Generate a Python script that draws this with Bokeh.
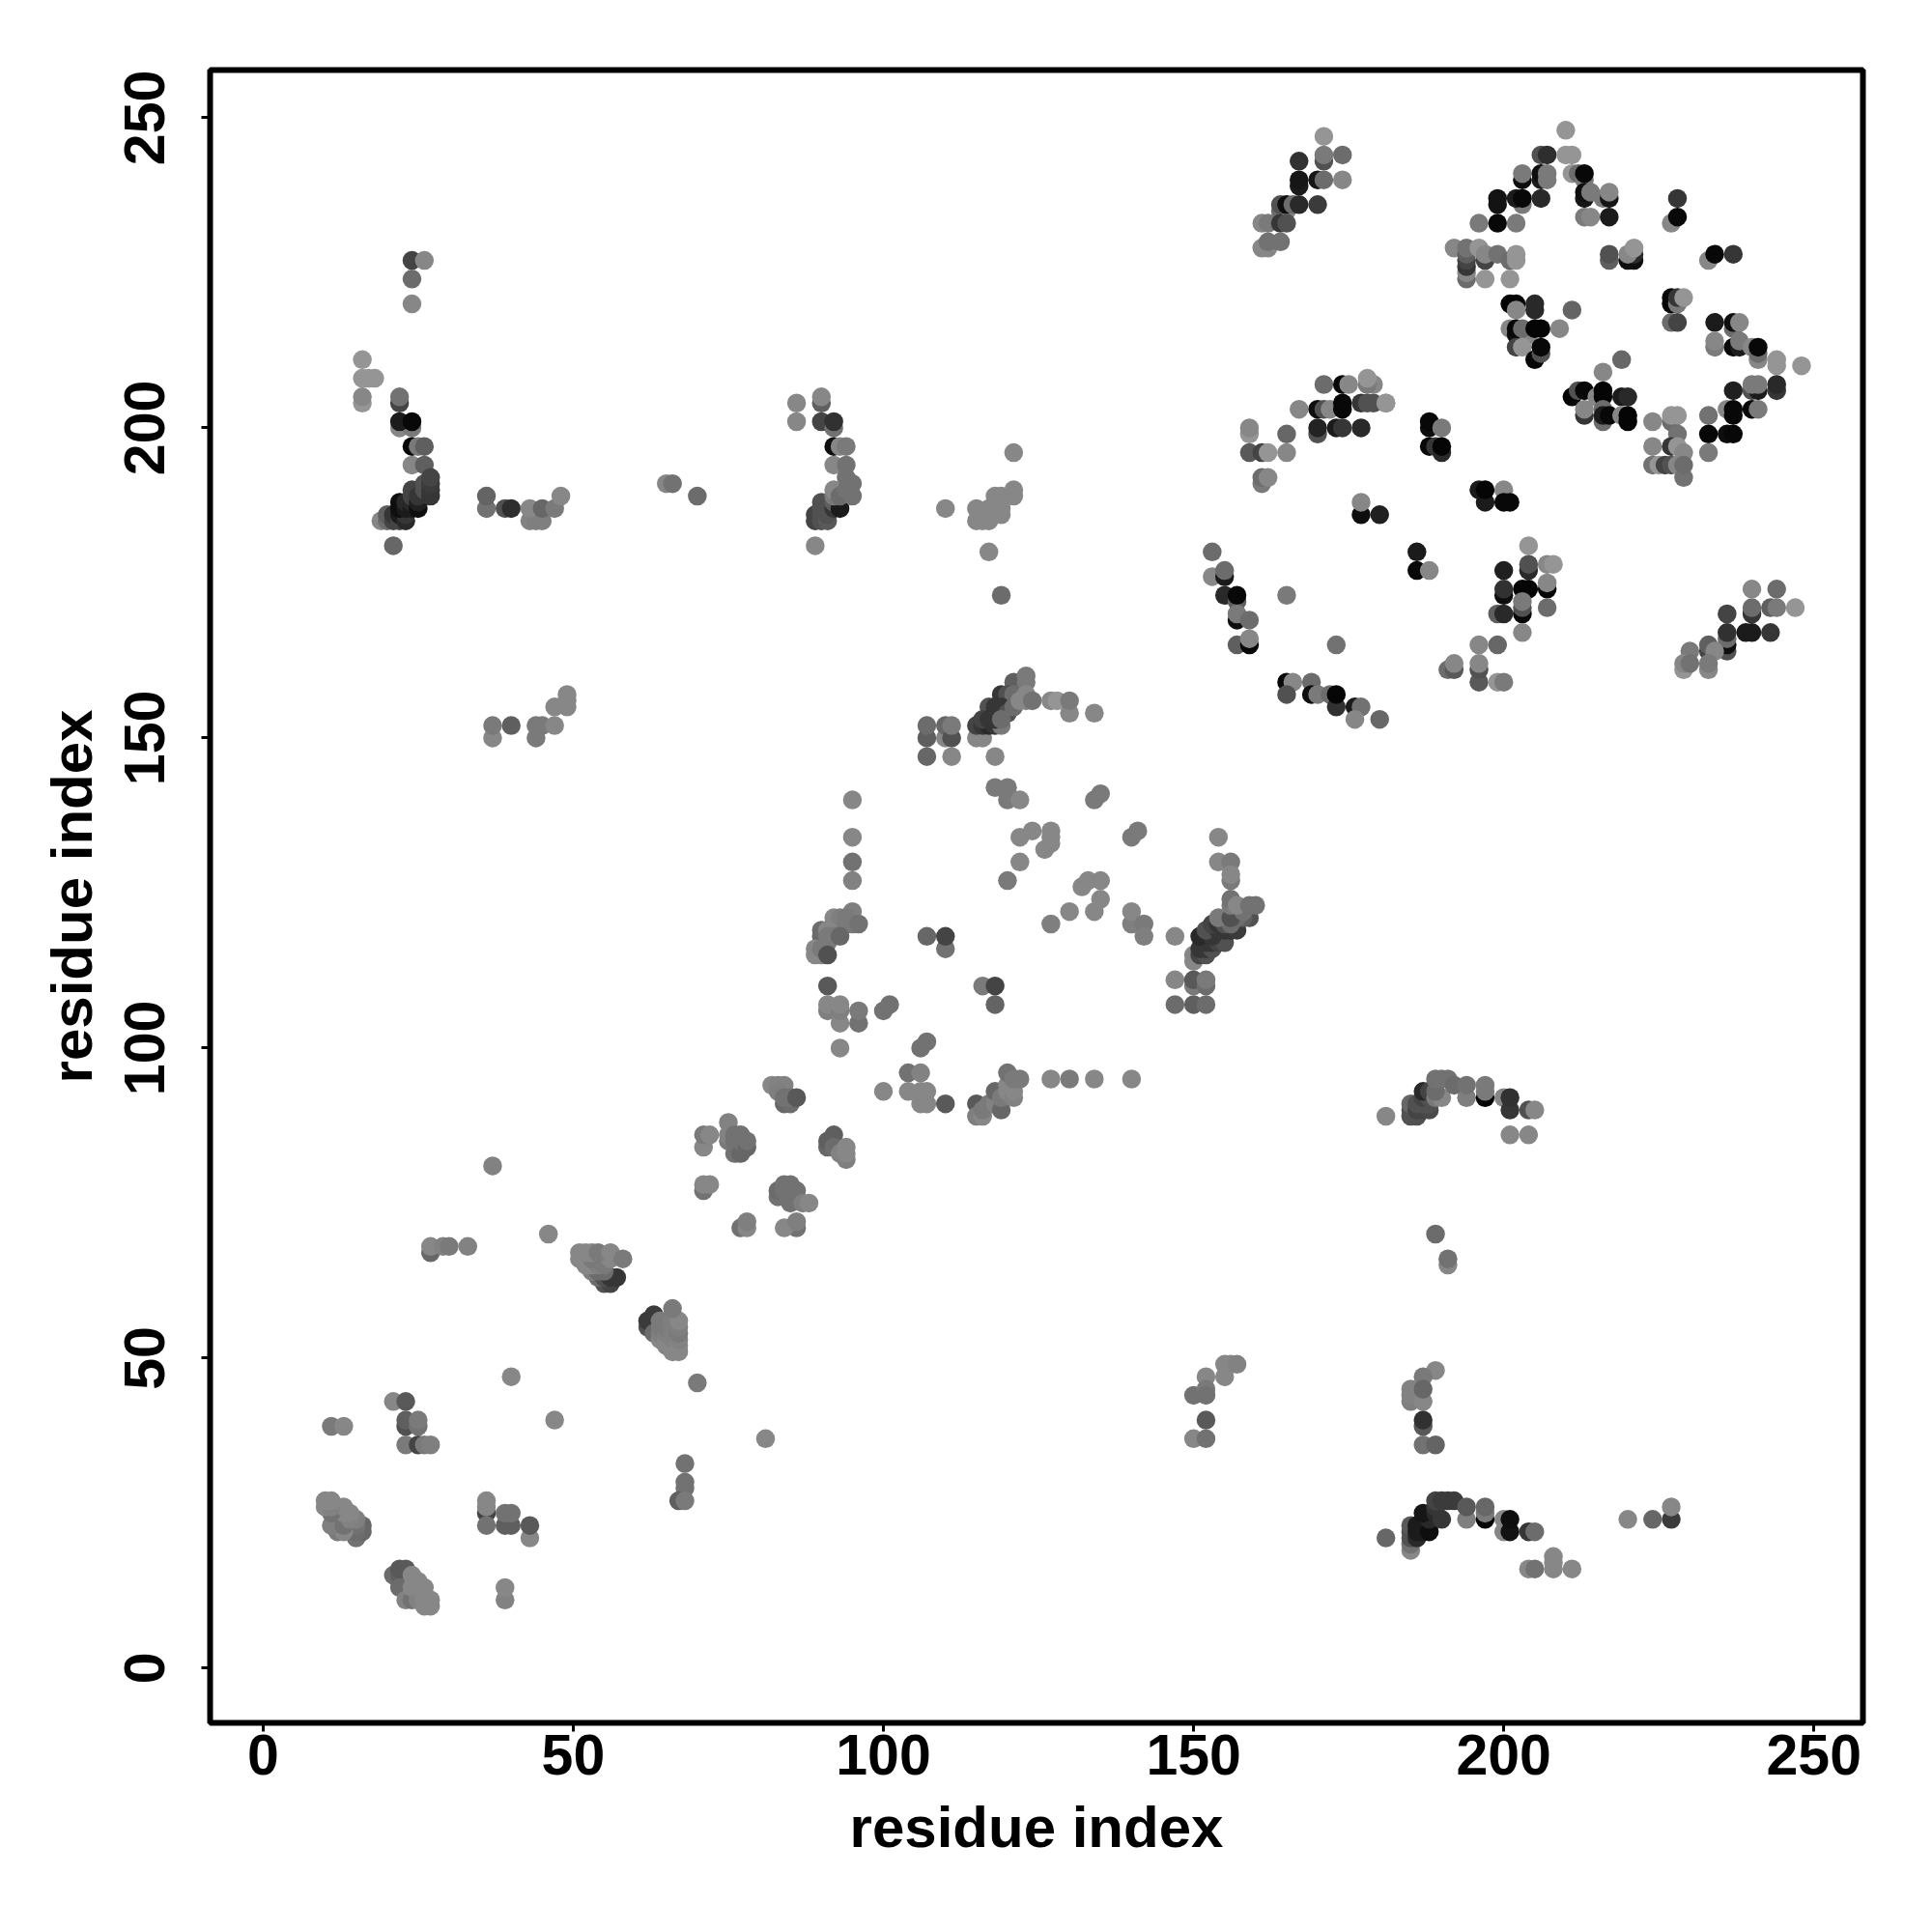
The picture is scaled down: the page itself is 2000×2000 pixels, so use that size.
from bokeh.embed import file_html
from bokeh.models import FixedTicker, Range1d
from bokeh.plotting import figure
from bokeh.resources import INLINE

# contacts as (residue x, residue y, grey level 0..1), cluster by cluster
top_diamond = [(210,248,.55),(206,244,.3),(207,244,.17),(210,244,.55),(211,244,.55),(203,240,.05),(203,241,.45),(206,240,.1),(206,241,.05),(207,240,.45),(207,241,.45),(211,241,.55),(212,241,.4),(213,240,.45),(213,241,.03),(213,237,.08),(213,238,.05),(214,238,.45),(216,237,.45),(217,237,.08),(217,238,.5),(199,236,.07),(199,237,.07),(203,236,.45),(202,237,.1),(203,237,.03),(206,237,.15),(213,234,.45),(214,234,.5),(217,234,.1),(196,233,.45),(199,233,.03),(202,233,.45),(228,237,.2),(227,233,.5),(228,234,.03)]
top_row = [(192,229,.5),(194,224,.4),(194,225,.5),(194,226,.2),(194,227,.25),(194,228,.35),(194,229,.42),(197,227,.25),(196,229,.55),(197,228,.5),(199,228,.42),(201,227,.4),(202,227,.55),(202,228,.55),(197,224,.55),(201,224,.55),(217,227,.35),(217,228,.3),(220,227,.05),(221,227,.05),(221,228,.15),(220,228,.5),(221,229,.55),(233,227,.5),(234,228,.03),(237,228,.2)]
mid_diamond = [(201,220,.02),(202,220,.02),(202,219,.5),(205,219,.15),(205,220,.15),(211,219,.37),(201,216,.5),(202,215,.05),(202,216,.03),(204,215,.5),(203,216,.4),(205,216,.02),(206,216,.02),(209,216,.5),(202,213,.25),(203,213,.55),(205,211,.03),(206,212,.3),(206,213,.03),(227,220,.03),(227,221,.03),(228,220,.45),(228,221,.2),(229,221,.55),(227,217,.4),(228,217,.25),(234,217,.1),(237,216,.4),(237,217,.05),(238,217,.5),(234,213,.45),(234,214,.5),(237,213,.03),(238,213,.1),(238,214,.45),(240,213,.5),(241,211,.5),(241,212,.4),(241,213,.03),(244,210,.55),(244,211,.55),(248,210,.55)]
low_diamond = [(219,211,.38),(216,209,.5),(211,205,.02),(212,206,.3),(213,206,.03),(215,205,.5),(216,205,.02),(216,206,.02),(219,205,.1),(220,205,.15),(213,202,.2),(213,203,.5),(216,201,.4),(216,203,.4),(216,202,.1),(217,202,.03),(219,202,.5),(220,201,.02),(220,202,.02),(233,202,.42),(237,206,.12),(240,206,.3),(241,206,.1),(240,207,.45),(241,207,.45),(244,206,.2),(244,207,.15),(236,203,.5),(237,202,.03),(237,203,.03),(240,203,.03),(241,203,.45),(233,199,.03),(236,199,.05),(237,199,.03),(233,196,.45),(224,201,.5),(227,201,.4),(227,202,.55),(228,202,.55),(228,199,.42),(224,197,.5),(227,197,.2),(228,197,.55),(229,196,.5),(224,194,.42),(225,194,.55),(226,194,.25),(227,194,.3),(228,194,.5),(229,192,.42),(229,194,.4),(188,200,.05),(188,201,.03),(190,200,.45),(188,197,.03),(189,197,.2),(190,196,.15),(190,197,.02),(179,204,.3),(179,207,.5),(181,204,.5)]
upper_strand = [(171,247,.55),(171,243,.3),(171,244,.45),(174,244,.4),(167,243,.18),(167,239,.1),(167,240,.08),(170,240,.08),(171,240,.4),(174,240,.5),(164,235,.4),(165,235,.5),(164,236,.3),(165,236,.05),(166,236,.4),(167,236,.15),(170,236,.22),(161,233,.5),(162,233,.45),(164,233,.2),(165,233,.3),(161,229,.5),(162,229,.5),(162,230,.42),(164,230,.42)]
mid_strand = [(178,207,.45),(178,208,.55),(171,207,.4),(174,207,.03),(175,207,.5),(167,203,.5),(170,203,.05),(171,203,.3),(172,203,.5),(174,203,.03),(174,204,.03),(177,204,.2),(178,204,.3),(181,204,.55),(170,199,.3),(170,200,.13),(173,200,.1),(174,200,.2),(177,200,.15),(159,199,.55),(159,200,.5),(165,199,.38),(159,196,.33),(161,196,.25),(162,196,.55),(165,196,.5),(161,191,.45),(161,192,.4),(162,192,.5),(177,186,.05),(177,188,.5),(180,186,.12),(196,190,.1),(197,188,.1),(197,190,.02),(200,190,.5),(200,188,.03),(201,188,.03)]
ring_left = [(153,180,.4),(153,176,.5),(155,176,.1),(155,177,.4),(155,173,.15),(157,172,.35),(157,173,.03),(157,169,.05),(157,170,.45),(159,169,.4),(157,165,.35),(159,165,.03),(159,166,.5),(165,173,.45),(173,165,.42),(165,159,.03),(166,159,.5),(165,157,.3),(169,159,.4),(169,157,.05),(170,157,.45),(172,157,.4),(173,155,.18),(173,157,.02),(176,155,.1),(177,155,.42),(176,153,.5),(180,153,.38),(186,180,.1),(186,177,.03),(188,177,.5)]
ring_right = [(204,181,.55),(204,177,.15),(204,178,.3),(207,178,.5),(208,178,.55),(200,177,.12),(200,173,.05),(200,174,.18),(203,174,.02),(204,174,.02),(207,174,.02),(207,175,.5),(203,170,.03),(203,171,.3),(203,172,.45),(207,171,.4),(199,170,.35),(200,170,.15),(203,167,.5),(196,165,.5),(199,165,.38),(191,161,.4),(192,161,.33),(192,162,.5),(196,159,.33),(196,161,.3),(196,162,.5),(199,159,.55),(200,159,.45)]
far_strand = [(240,170,.2),(240,171,.4),(240,174,.5),(244,174,.4),(243,171,.35),(244,171,.45),(247,171,.55),(236,170,.25),(236,164,.3),(236,165,.05),(236,166,.4),(236,167,.18),(239,167,.1),(240,167,.1),(243,167,.2),(233,164,.25),(233,165,.35),(234,164,.5),(230,164,.45),(229,161,.55),(229,162,.5),(230,162,.42),(233,161,.5),(233,162,.45)]
centre_top = [(121,159,.35),(123,159,.45),(123,160,.45),(119,157,.2),(120,157,.3),(121,157,.4),(123,157,.5),(117,155,.3),(118,155,.2),(119,155,.2),(120,154,.3),(121,155,.4),(122,156,.5),(123,156,.5),(124,156,.42),(127,156,.5),(128,156,.55),(130,154,.5),(130,156,.45),(134,154,.5),(115,150,.5),(116,150,.5),(115,152,.25),(116,152,.2),(117,152,.15),(118,152,.2),(119,152,.45),(116,153,.25),(117,153,.2),(118,153,.2),(119,153,.4),(107,147,.38),(107,150,.35),(107,152,.4),(110,150,.5),(110,152,.38),(111,150,.3),(111,152,.45),(111,147,.5),(118,147,.5)]
centre_mid = [(120,140,.45),(120,141,.45),(118,142,.45),(120,142,.45),(122,140,.5),(134,140,.45),(135,141,.45),(95,140,.5),(95,134,.5),(95,130,.42),(95,127,.48),(122,134,.5),(124,135,.5),(126,132,.5),(127,133,.5),(127,134,.5),(127,135,.5),(122,130,.5),(120,127,.45),(140,134,.45),(141,135,.45),(154,134,.5),(154,130,.5),(156,130,.45),(156,127,.45),(156,128,.5),(132,126,.5),(133,127,.5),(135,127,.5),(135,124,.5),(134,122,.5),(130,122,.5),(127,120,.47),(140,120,.47),(140,122,.5),(142,120,.45),(142,118,.47),(147,118,.5)]
centre_diag = [(150,114,.5),(150,115,.5),(151,115,.25),(152,115,.3),(151,116,.2),(152,116,.2),(153,116,.3),(152,117,.2),(153,117,.2),(154,117,.25),(155,117,.3),(151,118,.15),(153,118,.2),(152,119,.3),(154,119,.2),(155,119,.2),(156,119,.2),(157,119,.22),(153,120,.25),(154,120,.2),(155,120,.3),(159,121,.3),(158,121,.35),(157,121,.4),(156,120,.4),(154,121,.45),(156,121,.3),(158,122,.42),(156,123,.45),(156,124,.42),(157,123,.5),(159,123,.42),(160,123,.42)]
left_of_centre = [(95,122,.47),(92,120,.45),(93,120,.48),(92,121,.5),(93,121,.47),(94,120,.45),(94,121,.45),(95,120,.45),(96,120,.42),(90,118,.38),(90,119,.4),(91,119,.5),(91,117,.45),(91,118,.45),(92,118,.45),(93,118,.38),(89,115,.5),(89,116,.5),(90,115,.5),(90,116,.45),(91,115,.3),(91,110,.33),(91,106,.47),(91,107,.5),(93,104,.5),(93,106,.47),(93,107,.5),(96,104,.42),(96,106,.45),(100,106,.42),(101,107,.42),(93,100,.5),(107,118,.38),(110,116,.42),(110,118,.25),(116,110,.45),(118,107,.37),(118,110,.25),(147,107,.4),(147,111,.5),(150,107,.35),(152,107,.4),(150,110,.45),(150,111,.33),(152,110,.4),(152,111,.45)]
row_95 = [(106,100,.42),(107,101,.42),(104,96,.42),(106,96,.48),(100,93,.5),(104,93,.5),(106,91,.5),(107,91,.5),(106,93,.5),(107,93,.5),(110,91,.33),(115,91,.33),(115,89,.47),(116,89,.5),(116,90,.45),(117,91,.45),(118,91,.48),(119,90,.38),(118,93,.38),(119,92,.45),(120,93,.5),(120,94,.5),(121,92,.48),(121,93,.5),(120,96,.42),(121,95,.45),(122,95,.45),(127,95,.5),(130,95,.45),(134,95,.5),(140,95,.5)]
lower_diag = [(71,84,.5),(71,86,.45),(72,86,.5),(75,88,.48),(75,85,.45),(75,86,.48),(76,83,.42),(76,85,.42),(76,86,.42),(77,83,.38),(77,85,.42),(77,86,.42),(78,84,.38),(78,85,.42),(82,94,.5),(83,94,.48),(84,94,.48),(83,93,.47),(84,91,.38),(85,91,.4),(84,92,.42),(85,92,.42),(86,92,.33),(92,86,.35),(91,84,.38),(91,85,.35),(92,84,.4),(93,83,.48),(94,82,.47),(94,83,.5),(94,84,.5),(71,77,.42),(71,78,.5),(72,78,.5),(83,76,.42),(83,77,.4),(84,77,.42),(85,75,.42),(85,77,.42),(84,78,.42),(85,78,.42),(86,77,.42),(87,75,.47),(88,75,.5),(77,71,.42),(78,71,.5),(78,72,.47),(86,71,.42),(84,71,.5),(86,72,.47),(70,46,.45),(81,37,.5),(37,81,.48),(46,70,.5)]
helix_one = [(27,67,.38),(27,68,.5),(29,68,.48),(30,68,.45),(33,68,.48),(55,62,.3),(56,62,.25),(54,63,.4),(55,63,.3),(56,63,.2),(57,63,.2),(53,64,.47),(54,64,.4),(55,64,.4),(52,65,.5),(53,65,.5),(54,65,.47),(55,65,.45),(51,66,.5),(52,66,.5),(53,66,.45),(54,66,.45),(56,66,.5),(51,67,.5),(52,67,.5),(53,67,.5),(54,67,.45),(56,67,.5),(58,66,.45)]
helix_two = [(62,55,.3),(63,55,.3),(62,56,.22),(63,56,.22),(63,57,.22),(63,54,.4),(64,53,.5),(64,54,.47),(64,55,.45),(64,56,.45),(65,52,.5),(65,53,.5),(65,54,.47),(65,55,.45),(66,51,.5),(66,52,.5),(66,53,.48),(66,54,.47),(66,55,.47),(66,56,.47),(67,51,.5),(67,52,.5),(67,53,.48),(67,54,.45),(67,55,.47),(67,56,.5),(66,58,.45)]
bottom_left = [(40,47,.5),(47,40,.5),(21,43,.5),(23,43,.33),(23,39,.3),(23,40,.35),(25,39,.42),(25,40,.45),(11,39,.45),(13,39,.5),(23,36,.45),(25,36,.25),(26,36,.45),(27,36,.47),(68,33,.42),(68,29,.42),(68,30,.42),(67,27,.35),(68,27,.45),(36,25,.25),(36,26,.5),(36,27,.5),(36,23,.42),(39,23,.35),(40,23,.35),(39,25,.42),(40,25,.42),(43,21,.5),(43,23,.33),(39,11,.48),(39,13,.5)]
helix_three = [(15,21,.42),(16,22,.38),(16,23,.38),(15,22,.4),(15,23,.42),(12,22,.45),(13,22,.5),(11,23,.47),(13,23,.42),(15,24,.47),(14,24,.48),(14,25,.5),(13,25,.5),(11,25,.42),(13,26,.5),(10,26,.5),(11,26,.48),(10,27,.5),(11,27,.5)]
helix_four = [(21,15,.4),(22,15,.35),(23,15,.35),(22,16,.33),(23,16,.33),(22,13,.4),(23,13,.4),(23,11,.48),(24,11,.42),(24,13,.5),(24,15,.5),(25,11,.48),(25,13,.5),(25,14,.5),(26,10,.5),(26,11,.5),(26,13,.5),(27,10,.5),(27,11,.5)]
upper_left = [(24,227,.25),(26,227,.5),(24,224,.4),(24,220,.5),(16,211,.55),(16,208,.55),(17,208,.55),(18,208,.55),(16,204,.55),(16,205,.5),(22,204,.25),(22,205,.42),(22,200,.5),(24,200,.45),(22,201,.1),(24,201,.03),(24,197,.02),(25,197,.45),(26,197,.35),(24,194,.5),(26,194,.35),(21,181,.38),(19,185,.5),(20,185,.4),(20,186,.35),(21,185,.25),(21,186,.2),(22,185,.25),(22,186,.1),(23,185,.15),(23,186,.2),(22,187,.05),(22,188,.05),(23,187,.1),(23,188,.15),(24,187,.1),(24,188,.15),(24,189,.25),(24,190,.25),(25,187,.05),(25,188,.12),(25,189,.2),(26,190,.3),(26,191,.3),(27,189,.2),(27,190,.2),(27,191,.22),(27,192,.25)]
upper_row = [(36,187,.42),(36,189,.37),(39,187,.3),(40,187,.17),(43,185,.48),(44,185,.47),(45,185,.47),(43,187,.5),(45,187,.38),(47,187,.45),(48,189,.5),(65,191,.5),(66,191,.42),(70,189,.4),(110,187,.5)]
upper_mid = [(86,201,.5),(86,204,.5),(90,204,.35),(90,205,.5),(90,201,.25),(92,200,.42),(92,201,.18),(92,197,.05),(93,197,.5),(94,197,.45),(92,194,.5),(94,194,.42),(94,192,.42),(89,181,.5),(89,185,.25),(89,186,.25),(90,185,.3),(90,186,.3),(91,185,.33),(91,186,.3),(90,187,.3),(90,188,.3),(91,187,.3),(91,188,.3),(92,187,.2),(92,188,.35),(93,187,.1),(92,189,.45),(92,190,.5),(93,189,.4),(94,190,.42),(95,189,.42),(95,191,.42)]
row_152 = [(37,150,.5),(37,152,.45),(40,152,.35),(44,150,.45),(44,152,.45),(45,152,.45),(47,152,.5),(47,155,.5),(49,155,.5),(49,156,.5),(49,157,.5)]
cluster_118 = [(121,196,.5),(117,180,.5),(119,173,.4),(115,185,.5),(116,185,.5),(117,185,.5),(116,186,.5),(119,186,.5),(115,187,.5),(117,187,.5),(118,187,.5),(119,187,.5),(118,189,.5),(119,189,.5),(121,189,.5),(121,190,.5)]
upper_arch = [(181,89,.5),(185,89,.3),(186,89,.3),(185,90,.3),(185,91,.38),(186,90,.25),(187,90,.25),(188,90,.27),(186,91,.3),(187,91,.3),(188,91,.3),(187,92,.25),(188,92,.3),(187,93,.15),(188,93,.25),(189,92,.45),(190,92,.5),(189,93,.4),(189,95,.42),(190,95,.42),(191,95,.42),(192,94,.4),(194,92,.47),(194,94,.42),(197,92,.02),(197,93,.45),(197,94,.45),(200,92,.5),(201,90,.2),(201,92,.18),(204,90,.3),(205,90,.5),(201,86,.5),(204,86,.5)]
right_bottom = [(189,70,.4),(191,65,.5),(191,66,.42),(189,48,.5),(187,47,.45),(185,43,.47),(185,44,.48),(185,45,.48),(187,43,.5),(187,45,.38),(187,39,.33),(187,40,.18),(187,36,.42),(189,36,.37),(152,47,.5),(150,44,.42),(152,45,.45),(152,44,.42),(155,47,.5),(155,49,.5),(156,49,.5),(157,49,.48),(152,40,.33),(150,37,.5),(152,37,.42)]
lower_arch = [(181,21,.38),(185,19,.5),(185,20,.42),(185,21,.3),(185,22,.3),(185,23,.33),(186,21,.15),(186,22,.1),(186,23,.1),(187,22,.1),(187,23,.1),(188,22,.05),(188,24,.15),(187,25,.08),(189,25,.15),(190,24,.2),(189,26,.2),(189,27,.25),(190,27,.22),(191,27,.22),(192,27,.22),(194,24,.47),(194,26,.33),(197,24,.02),(197,25,.45),(197,26,.38),(200,22,.5),(200,24,.5),(201,22,.07),(201,24,.05),(204,22,.2),(205,22,.4),(204,16,.5),(205,16,.42),(208,16,.5),(208,17,.5),(208,18,.5),(211,16,.5),(220,24,.5),(224,24,.38),(227,24,.22),(227,26,.5)]

clusters = [top_diamond, top_row, mid_diamond, low_diamond, upper_strand, mid_strand, ring_left, ring_right,
            far_strand, centre_top, centre_mid, centre_diag, left_of_centre, row_95, lower_diag, helix_one,
            helix_two, bottom_left, helix_three, helix_four, upper_left, upper_row, upper_mid, row_152,
            cluster_118, upper_arch, right_bottom, lower_arch]

x_ticks = [0, 50, 100, 150, 200, 250]
y_ticks = [0, 50, 100, 150, 200, 250]
axis_title = "residue index"


def grey(level):
    c = min(255, round(level * 255 * 1.06))
    return f"#{c:02x}{c:02x}{c:02x}"


p = figure(frame_width=1711, frame_height=1711, output_backend="svg", toolbar_location=None,
           x_range=Range1d(-8.54, 257.9), y_range=Range1d(-8.82, 257.7),
           min_border_left=217, min_border_top=72, min_border_right=64, min_border_bottom=209)

for cluster in clusters:
    xs = [c[0] for c in cluster]
    ys = [c[1] for c in cluster]
    cols = [grey(c[2]) for c in cluster]
    p.scatter(xs, ys, size=19.5, fill_color=cols, line_color=None)

p.grid.visible = False
p.outline_line_color = "black"
p.outline_line_width = 6
p.background_fill_color = "white"
p.border_fill_color = "white"

for ax, ticks in ((p.xaxis, x_ticks), (p.yaxis, y_ticks)):
    ax.ticker = FixedTicker(ticks=ticks)
    ax.axis_line_color = None
    ax.major_tick_line_color = "black"
    ax.major_tick_line_width = 3
    ax.major_tick_in = 0
    ax.major_tick_out = 9
    ax.minor_tick_line_color = None
    ax.axis_label = axis_title
    ax.axis_label_text_font = "Liberation Sans"
    ax.axis_label_text_font_style = "bold"
    ax.axis_label_text_font_size = "60px"
    ax.axis_label_text_color = "black"
    ax.major_label_text_font = "Liberation Sans"
    ax.major_label_text_font_style = "bold"
    ax.major_label_text_font_size = "59px"
    ax.major_label_text_color = "black"

p.xaxis.major_label_standoff = 3
p.xaxis.axis_label_standoff = 18
p.yaxis.major_label_orientation = "vertical"
p.yaxis.major_label_standoff = 38
p.yaxis.axis_label_standoff = 19

open("out.html", "w").write(file_html(p, INLINE))
